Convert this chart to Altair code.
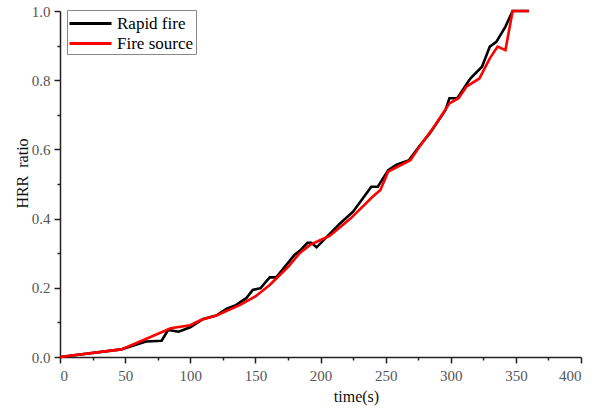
import altair as alt
import pandas as pd

rapid_t = [0, 47, 66, 78, 83, 91, 100, 110, 120, 128, 135, 143, 148, 154, 161, 166, 180, 185, 190, 193, 197, 215, 225, 239, 244, 252, 258, 268, 276, 284, 296, 299, 305, 315, 324, 330, 335, 342, 347.5, 360]
rapid_v = [0, 0.022, 0.045, 0.047, 0.078, 0.073, 0.086, 0.11, 0.12, 0.14, 0.15, 0.17, 0.194, 0.199, 0.23, 0.23, 0.295, 0.31, 0.33, 0.33, 0.317, 0.386, 0.42, 0.492, 0.492, 0.54, 0.555, 0.569, 0.61, 0.647, 0.714, 0.748, 0.748, 0.805, 0.839, 0.897, 0.911, 0.955, 1.0, 1.0]

source_t = [0, 47, 61, 85, 100, 108, 120, 138, 150, 161, 175, 184, 192, 200, 207, 223, 240, 246, 252, 269, 276, 288, 299, 306, 312, 322, 330, 336, 342, 347.5, 360]
source_v = [0, 0.022, 0.044, 0.083, 0.092, 0.107, 0.12, 0.15, 0.175, 0.208, 0.26, 0.3, 0.324, 0.338, 0.35, 0.40, 0.463, 0.483, 0.536, 0.569, 0.608, 0.67, 0.733, 0.748, 0.781, 0.805, 0.863, 0.897, 0.887, 1.0, 1.0]

series = ["Rapid fire", "Fire source"]
colors = ["#000000", "#ff0000"]
x_ticks = list(range(0, 401, 25))
y_ticks = [round(i * 0.1, 1) for i in range(11)]

rows = []
for t, v in zip(rapid_t, rapid_v):
    rows.append({"t": t, "v": v, "s": series[0]})
for t, v in zip(source_t, source_v):
    rows.append({"t": t, "v": v, "s": series[1]})
df = pd.DataFrame(rows)

FONT = "Liberation Serif"

chart = alt.Chart(df).mark_line(strokeWidth=2.6).encode(
    x=alt.X("t:Q", scale=alt.Scale(domain=[0, 400], nice=False, zero=False),
            axis=alt.Axis(title="time(s)", values=x_ticks, format="d",
                          labelExpr="datum.value % 50 === 0 ? datum.label : ''",
                          tickSize={"condition": {"test": "datum.value % 50 === 0", "value": 6}, "value": 3},
                          labelPadding=5, titleX=296, titlePadding=5)),
    y=alt.Y("v:Q", scale=alt.Scale(domain=[0, 1], nice=False),
            axis=alt.Axis(title="HRR\u00a0 ratio", values=y_ticks, format=".1f",
                          labelExpr="round(datum.value*10) % 2 === 0 ? datum.label : ''",
                          tickSize={"condition": {"test": "round(datum.value*10) % 2 === 0", "value": 6}, "value": 3},
                          labelPadding=4, titleX=-30, titleY=162)),
    color=alt.Color("s:N", scale=alt.Scale(domain=series, range=colors),
                    legend=alt.Legend(title=None, orient="none", legendX=7, legendY=-1,
                                      symbolType="M-2.1,0H2.1", symbolSize=400, symbolStrokeWidth=3,
                                      symbolOffset=10, labelOffset=15,
                                      labelFont=FONT, labelFontSize=17, labelColor="#000",
                                      padding=2, strokeColor="#888", fillColor="white",
                                      rowPadding=0)),
    order=alt.Order("t:Q"),
).properties(
    width=521, height=346,
    autosize=alt.AutoSizeParams(type="none"),
    padding={"left": 60, "top": 11, "right": 14, "bottom": 51},
    background="white",
).configure_axis(
    grid=False, domainColor="#222", domainWidth=1.5, tickColor="#222", tickWidth=1.5,
    labelFont=FONT, labelFontSize=15, labelColor="#555",
    titleFont=FONT, titleFontSize=16, titleColor="#111", titleFontWeight="normal",
).configure_view(stroke=None)

chart.save("out.html", embed_options={"renderer": "svg", "actions": False})
